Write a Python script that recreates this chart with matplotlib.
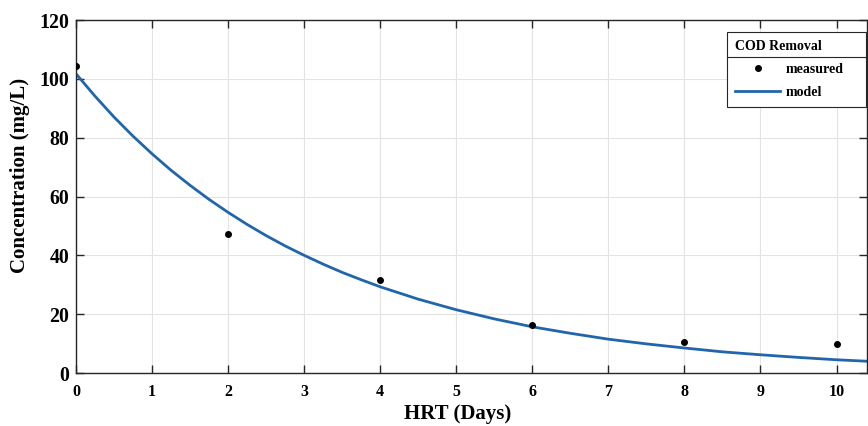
import matplotlib.pyplot as plt
from matplotlib.lines import Line2D

plt.rcParams['font.family'] = ['Liberation Serif', 'DejaVu Serif']
plt.rcParams['font.weight'] = 'bold'

# measured points
hrt = [0, 2, 4, 6, 8, 10]
conc = [104.5, 47.4, 31.5, 16.3, 10.6, 9.7]

# model curve
model_t = [0, 0.25, 0.5, 0.75, 1, 1.25, 1.5, 1.75, 2, 2.25, 2.5, 2.75, 3,
           3.25, 3.5, 3.75, 4, 4.5, 5, 5.5, 6, 6.5, 7, 7.5, 8, 8.5, 9, 9.5,
           10, 10.4]
model_c = [101.7, 94.1, 87.0, 80.5, 74.5, 68.9, 63.8, 59.0, 54.6, 50.5, 46.7,
           43.2, 40.0, 37.0, 34.2, 31.7, 29.3, 25.1, 21.5, 18.4, 15.7, 13.5,
           11.5, 9.9, 8.5, 7.2, 6.2, 5.3, 4.5, 4.0]

fig = plt.figure(figsize=(8.68, 4.26), dpi=100)
ax = fig.add_axes([0.0876, 0.1244, 0.9112, 0.8286])

ax.plot(hrt, conc, 'o', color='black', markersize=4, zorder=3)
ax.plot(model_t, model_c, '-', color='#2166ac', linewidth=2)

ax.set_xlim(0, 10.4)
ax.set_ylim(0, 120)
ax.set_xticks(range(0, 11))
ax.set_yticks(range(0, 121, 20))
ax.grid(True, color='#e3e3e3', linewidth=0.8)
ax.set_axisbelow(True)
ax.tick_params(direction='in', length=6, width=1, top=True, right=True,
               color='#262626')
ax.tick_params(axis='x', labelsize=11.5, pad=8)
ax.tick_params(axis='y', labelsize=14.3, pad=5)
for s in ax.spines.values():
    s.set_color('#262626')
    s.set_linewidth(1)
for lab in ax.get_xticklabels() + ax.get_yticklabels():
    lab.set_fontweight('bold')

ax.set_xlabel('HRT (Days)', fontsize=15, fontweight='bold')
ax.set_ylabel('Concentration (mg/L)', fontsize=15, fontweight='bold')
ax.xaxis.set_label_coords(0.483, -0.088)
ax.yaxis.set_label_coords(-0.058, 0.561)

handles = [Line2D([], [], marker='o', linestyle='none', color='black',
                  markersize=4),
           Line2D([], [], color='#2166ac', linewidth=2)]
leg = ax.legend(handles, ['measured', 'model'], title='COD Removal',
                loc='upper left', bbox_to_anchor=(0.823, 0.5, 0.176, 0.466),
                mode='expand', fontsize=10, title_fontsize=10,
                alignment='left', fancybox=False, edgecolor='#262626',
                framealpha=1, handlelength=3.2, handletextpad=0.4,
                borderpad=0.6, labelspacing=0.7, borderaxespad=0)
leg.get_title().set_fontweight('bold')
leg.get_frame().set_linewidth(0.8)
for t in leg.get_texts():
    t.set_fontweight('bold')

# separator under the legend title
fig.canvas.draw()
inv = ax.transAxes.inverted()
fb = leg.get_frame().get_window_extent()
tb = leg.get_title().get_window_extent()
x0, y0 = inv.transform((fb.x0, tb.y0 - 4))
x1, _ = inv.transform((fb.x1, tb.y0 - 4))
ax.plot([x0, x1], [y0, y0], transform=ax.transAxes, color='#262626',
        linewidth=0.8, zorder=10, clip_on=False)

fig.savefig('out.png', dpi=100)
